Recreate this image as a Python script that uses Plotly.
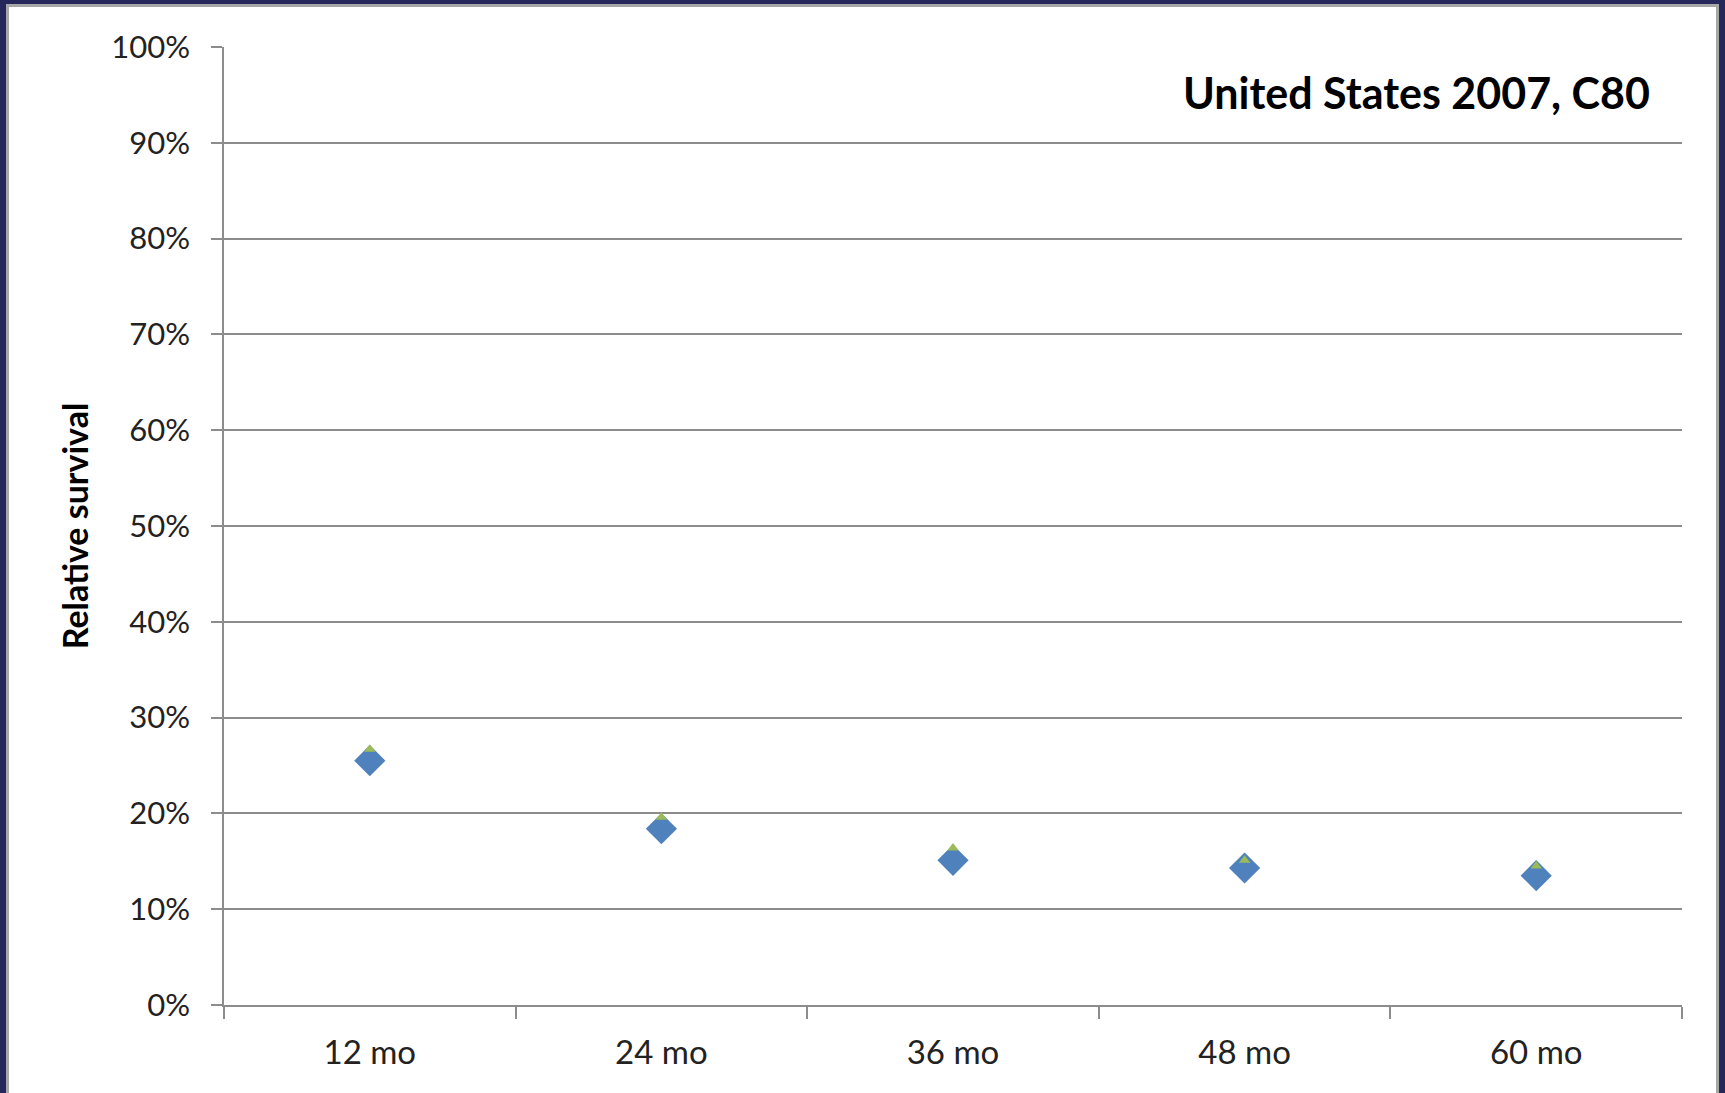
import plotly.graph_objects as go

# Relative survival by follow-up interval
intervals = ["12 mo", "24 mo", "36 mo", "48 mo", "60 mo"]
survival_main = [0.255, 0.184, 0.151, 0.143, 0.135]
survival_alt = [0.267, 0.196, 0.164, 0.151, 0.145]

y_ticks = [i / 10 for i in range(11)]
y_tick_labels = [f"{int(v * 100)}%" for v in y_ticks]

W, H = 1725, 1093
M_L, M_R, M_T, M_B = 224, 43, 47, 88
PW = W - M_L - M_R
PH = H - M_T - M_B


def px_x(px):
    return (px - M_L) / PW


def px_y(py):
    return (H - M_B - py) / PH


GRID = "#8c8c8c"
FONT = "Lato, 'Open Sans', sans-serif"

fig = go.Figure()
fig.add_trace(go.Scatter(
    x=intervals, y=survival_main, mode="markers",
    marker=dict(symbol="diamond", size=24, color="#4F81BD", line=dict(width=0)),
    showlegend=False, cliponaxis=False,
))
fig.add_trace(go.Scatter(
    x=intervals, y=survival_alt, mode="markers",
    marker=dict(symbol="triangle-up", size=10, color="#9BBB59", line=dict(width=0)),
    showlegend=False, cliponaxis=False,
))

# slide frame: navy edge with a thin gray inner rule
frame = [
    (0, 0, 6, H, "#25265A"),
    (6, 4, 9, H, "#a6a6a6"),
    (0, 0, W, 4, "#25265A"),
    (6, 4, 1719, 7, "#a6a6a6"),
    (1719, 0, W, H, "#25265A"),
    (1716, 4, 1719, H, "#a6a6a6"),
]
shapes = []
for x0, y0, x1, y1, c in frame:
    shapes.append(dict(
        type="rect", xref="paper", yref="paper",
        x0=px_x(x0), x1=px_x(x1), y0=px_y(y1), y1=px_y(y0),
        fillcolor=c, line=dict(width=0), layer="above",
    ))

fig.update_layout(
    width=W, height=H,
    margin=dict(l=M_L, r=M_R, t=M_T, b=M_B),
    paper_bgcolor="white", plot_bgcolor="white",
    font=dict(family=FONT, color="#222222"),
    shapes=shapes,
    annotations=[dict(
        text="<b>United States 2007, C80</b>",
        xref="paper", yref="paper", x=px_x(1652), y=px_y(93),
        xanchor="right", yanchor="middle", showarrow=False,
        font=dict(family=FONT, size=43, color="#000000"),
    )],
    xaxis=dict(
        type="category", tickson="boundaries", range=[-0.5, 4.5],
        showgrid=False, showline=True, linecolor=GRID, linewidth=1.5,
        ticks="outside", ticklen=12, tickwidth=1.5, tickcolor=GRID,
        tickfont=dict(size=33, color="#222222"), ticklabelstandoff=18,
    ),
    yaxis=dict(
        range=[0, 1], tickvals=y_ticks, ticktext=y_tick_labels,
        showgrid=True, gridcolor=GRID, gridwidth=1.5,
        showline=True, linecolor=GRID, linewidth=1.5,
        ticks="outside", ticklen=11, tickwidth=1.5, tickcolor=GRID,
        tickfont=dict(size=31, color="#222222"), ticklabelstandoff=15,
        zeroline=False,
        title=dict(text="<b>Relative survival</b>", standoff=12,
                   font=dict(family=FONT, size=34, color="#000000")),
    ),
)

fig.write_html("out.html")
